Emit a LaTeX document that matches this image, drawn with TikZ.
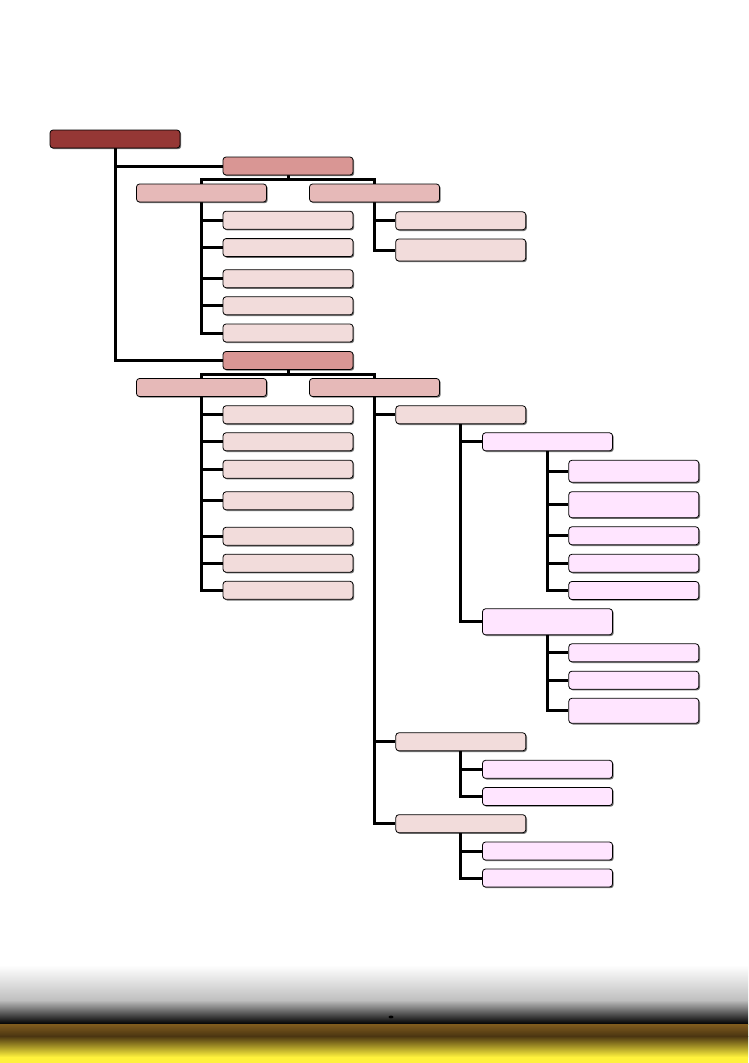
\documentclass[tikz,border=0pt]{standalone}
\usepackage{tikz}
\usepackage{xcolor}
\usetikzlibrary{positioning,shadows,backgrounds}

\definecolor{rootred}{RGB}{149,55,53}
\definecolor{levelone}{RGB}{217,150,148}
\definecolor{leveltwo}{RGB}{230,185,184}
\definecolor{levelthree}{RGB}{242,220,219}
\definecolor{levelfour}{RGB}{255,229,255}
\definecolor{goldtop}{RGB}{128,92,30}
\definecolor{golddark}{RGB}{75,53,17}
\definecolor{goldlight}{RGB}{255,242,60}

\begin{document}
\begin{tikzpicture}[x=1pt, y=-1pt]
    \tikzstyle{box}=[rectangle, draw, rounded corners=3pt, line width=0.8pt, minimum width=130pt, minimum height=18pt, inner sep=0pt,
        drop shadow={shadow xshift=1.2pt, shadow yshift=-1.2pt, fill=black, opacity=0.55}]
    \tikzstyle{rootbox}=[box, fill=rootred]
    \tikzstyle{lvla}=[box, fill=levelone]
    \tikzstyle{lvlb}=[box, fill=leveltwo]
    \tikzstyle{lvlc}=[box, fill=levelthree]
    \tikzstyle{lvld}=[box, fill=levelfour]
    \tikzstyle{link}=[line width=3pt]

    \useasboundingbox (0,0) rectangle (748,1063);

    % bottom band
    \shade[top color=white, bottom color=black!25] (0,965) rectangle (748,1000);
    \shade[top color=black!25, bottom color=black] (0,1000) rectangle (748,1024);
    \shade[top color=goldtop, bottom color=golddark] (0,1024) rectangle (748,1036);
    \shade[top color=golddark, bottom color=goldlight] (0,1036) rectangle (748,1057);
    \fill[goldlight] (0,1057) rectangle (748,1063);
    \fill (391,1017) ellipse [x radius=2.5pt, y radius=1.4pt];

    \node[rootbox] (root) at (115,139) {};
    \node[lvla] (up) at (288,166) {};
    \node[lvla] (low) at (288,360.5) {};

    \node[lvlb] (upL) at (201.5,193) {};
    \node[lvlb] (upR) at (374.5,193) {};
    \node[lvlb] (lowL) at (201.5,387.5) {};
    \node[lvlb] (lowR) at (374.5,387.5) {};

    \node[lvlc] (upL1) at (288,220.2) {};
    \node[lvlc] (upL2) at (288,247.6) {};
    \node[lvlc] (upL3) at (288,278.7) {};
    \node[lvlc] (upL4) at (288,305.8) {};
    \node[lvlc] (upL5) at (288,333) {};

    \node[lvlc] (upR1) at (460.7,220.8) {};
    \node[lvlc, minimum height=22pt] (upR2) at (460.7,250) {};

    \node[lvlc] (lowL1) at (288,414.8) {};
    \node[lvlc] (lowL2) at (288,441.8) {};
    \node[lvlc] (lowL3) at (288,469.2) {};
    \node[lvlc] (lowL4) at (288,500.8) {};
    \node[lvlc] (lowL5) at (288,536.3) {};
    \node[lvlc] (lowL6) at (288,563.2) {};
    \node[lvlc] (lowL7) at (288,590.3) {};

    \node[lvlc] (lowR1) at (460.8,414.8) {};
    \node[lvlc] (lowR2) at (460.8,741.8) {};
    \node[lvlc] (lowR3) at (460.8,823.7) {};

    \node[lvld] (grpA) at (547.5,441.8) {};
    \node[lvld, minimum height=26pt] (grpB) at (547.5,621.8) {};

    \node[lvld, minimum height=22pt] (grpA1) at (633.8,471.3) {};
    \node[lvld, minimum height=26pt] (grpA2) at (633.8,504.7) {};
    \node[lvld] (grpA3) at (633.8,535.8) {};
    \node[lvld] (grpA4) at (633.8,563.3) {};
    \node[lvld] (grpA5) at (633.8,590.5) {};

    \node[lvld] (grpB1) at (633.8,652.8) {};
    \node[lvld] (grpB2) at (633.8,680.2) {};
    \node[lvld, minimum height=25pt] (grpB3) at (633.8,710.8) {};

    \node[lvld] (subC1) at (547.5,769.3) {};
    \node[lvld] (subC2) at (547.5,796.5) {};
    \node[lvld] (subD1) at (547.5,851) {};
    \node[lvld] (subD2) at (547.5,878) {};

    \begin{scope}[on background layer]
        \draw[link] (root.south) |- (up.west) (root.south) |- (low.west);

        \draw[link] (up.south) -- +(0,4.5) coordinate (upbar) -| (upL.north) (upbar) -| (upR.north);
        \draw[link] (low.south) -- +(0,4.5) coordinate (lowbar) -| (lowL.north) (lowbar) -| (lowR.north);

        \draw[link] (upL.south) |- (upL1.west) (upL.south) |- (upL2.west) (upL.south) |- (upL3.west)
            (upL.south) |- (upL4.west) (upL.south) |- (upL5.west);
        \draw[link] (upR.south) |- (upR1.west) (upR.south) |- (upR2.west);

        \draw[link] (lowL.south) |- (lowL1.west) (lowL.south) |- (lowL2.west) (lowL.south) |- (lowL3.west)
            (lowL.south) |- (lowL4.west) (lowL.south) |- (lowL5.west) (lowL.south) |- (lowL6.west)
            (lowL.south) |- (lowL7.west);
        \draw[link] (lowR.south) |- (lowR1.west) (lowR.south) |- (lowR2.west) (lowR.south) |- (lowR3.west);

        \draw[link] (lowR1.south) |- (grpA.west) (lowR1.south) |- (grpB.west);
        \draw[link] (grpA.south) |- (grpA1.west) (grpA.south) |- (grpA2.west) (grpA.south) |- (grpA3.west)
            (grpA.south) |- (grpA4.west) (grpA.south) |- (grpA5.west);
        \draw[link] (grpB.south) |- (grpB1.west) (grpB.south) |- (grpB2.west) (grpB.south) |- (grpB3.west);

        \draw[link] (lowR2.south) |- (subC1.west) (lowR2.south) |- (subC2.west);
        \draw[link] (lowR3.south) |- (subD1.west) (lowR3.south) |- (subD2.west);
    \end{scope}
\end{tikzpicture}
\end{document}
